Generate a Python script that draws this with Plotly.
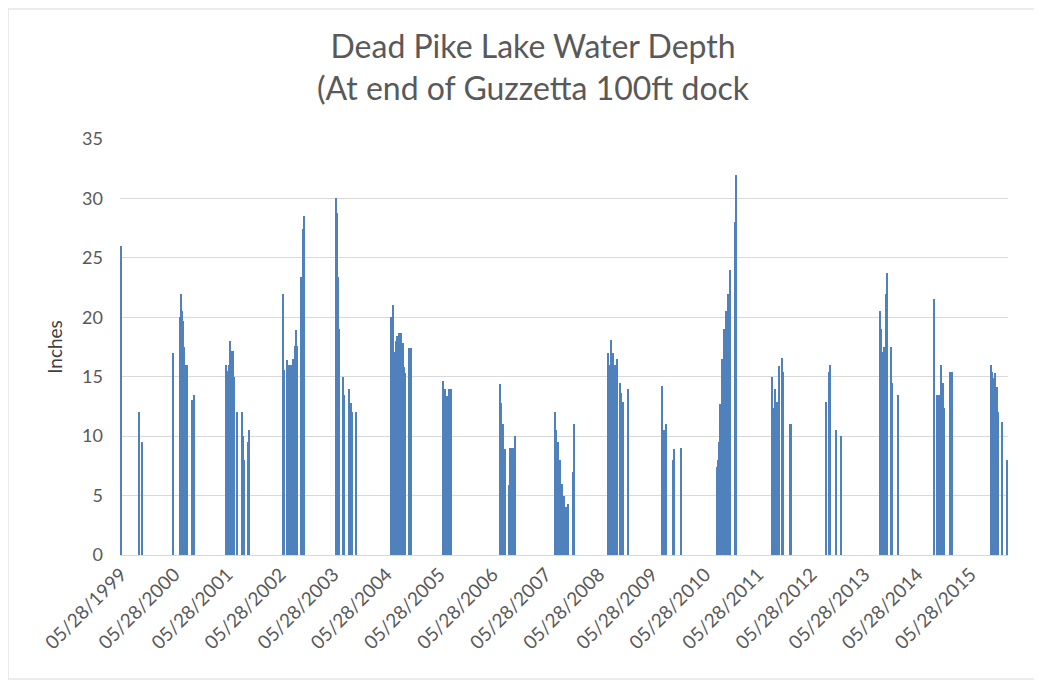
import plotly.graph_objects as go

# Water depth readings (inches), grouped by cluster
dates = [
    # 1999
    "1999-05-28", "1999-10-01", "1999-10-17",
    # 2000
    "2000-05-23", "2000-07-07", "2000-07-17", "2000-07-21", "2000-07-28",
    "2000-08-04", "2000-08-10", "2000-08-19", "2000-08-28", "2000-09-30", "2000-10-10",
    # 2001
    "2001-05-23", "2001-05-29", "2001-06-08", "2001-06-18", "2001-06-28", "2001-07-08",
    "2001-07-15", "2001-08-05", "2001-09-06", "2001-09-13", "2001-09-19", "2001-10-20",
    "2001-10-27",
    # 2002
    "2002-06-18", "2002-06-25", "2002-07-11", "2002-07-20", "2002-08-03", "2002-08-16",
    "2002-08-25", "2002-09-10", "2002-09-17", "2002-09-24", "2002-10-20", "2002-10-29",
    "2002-11-07",
    # 2003
    "2003-06-16", "2003-06-24", "2003-06-29", "2003-07-06", "2003-08-02", "2003-08-11",
    "2003-09-10", "2003-09-25", "2003-10-07", "2003-11-04",
    # 2004
    "2004-06-27", "2004-07-05", "2004-07-14", "2004-07-23", "2004-08-01", "2004-08-10",
    "2004-08-24", "2004-09-07", "2004-09-20", "2004-09-27", "2004-10-06", "2004-10-28",
    "2004-11-11",
    # 2005
    "2005-06-24", "2005-07-07", "2005-07-21", "2005-08-03", "2005-08-12",
    # 2006
    "2006-07-20", "2006-07-27", "2006-08-05", "2006-08-22", "2006-09-17", "2006-09-24",
    "2006-10-07", "2006-10-16", "2006-10-26",
    # 2007
    "2007-07-31", "2007-08-07", "2007-08-22", "2007-09-03", "2007-09-19", "2007-10-02",
    "2007-10-18", "2007-10-29", "2007-11-30", "2007-12-09",
    # 2008
    "2008-07-28", "2008-08-03", "2008-08-21", "2008-09-03", "2008-09-13", "2008-09-22",
    "2008-09-29", "2008-10-24", "2008-10-31", "2008-11-08", "2008-12-12",
    # 2009
    "2009-08-07", "2009-08-18", "2009-08-30", "2009-10-19", "2009-10-25", "2009-12-15",
    # 2010
    "2010-08-18", "2010-08-25", "2010-08-31", "2010-09-09", "2010-09-20", "2010-10-04",
    "2010-10-20", "2010-10-27", "2010-11-05", "2010-11-14", "2010-12-18", "2010-12-26",
    # 2011
    "2011-08-31", "2011-09-07", "2011-09-22", "2011-10-05", "2011-10-18", "2011-11-09",
    "2011-11-16", "2012-01-02", "2012-01-08",
    # 2012
    "2012-09-04", "2012-09-26", "2012-10-03", "2012-11-15", "2012-12-18",
    # 2013
    "2013-09-15", "2013-09-21", "2013-09-28", "2013-10-14", "2013-10-23", "2013-11-01",
    "2013-11-26", "2013-12-03", "2014-01-14",
    # 2014
    "2014-09-19", "2014-10-14", "2014-10-22", "2014-11-05", "2014-11-13", "2014-11-21",
    "2014-12-01", "2015-01-08", "2015-01-19",
    # 2015
    "2015-10-15", "2015-10-22", "2015-10-31", "2015-11-16", "2015-11-24", "2015-12-04",
    "2016-01-01", "2016-02-07",
]

depths = [
    26, 12, 9.5,
    17, 20, 22, 20.5, 19.7, 17.5, 16, 16, 16, 13, 13.5,
    16, 15.5, 16, 18, 17.2, 17.2, 15, 12, 12, 10, 8, 9.5, 10.5,
    22, 15.6, 16.4, 16, 16, 16, 16.5, 17.6, 18.9, 17.6, 23.4, 27.4, 28.5,
    30, 28.8, 23.4, 19, 15, 13.5, 14, 12.8, 12, 12,
    20, 20, 21, 17.1, 18, 18.4, 18.7, 18.7, 17.8, 15.8, 15.3, 17.4, 17.4,
    14.6, 14, 13.4, 14, 14,
    14.4, 12.8, 11, 8.9, 5.9, 9, 9, 9, 10,
    12, 10.5, 9.5, 8, 6, 5, 4, 4.3, 7, 11,
    17, 16, 18.1, 17, 16, 16, 16.5, 14.5, 13.6, 12.9, 14,
    14.2, 10.5, 11, 8, 8.9, 9,
    7.4, 8, 9.5, 12.7, 16.5, 19, 20.5, 20, 22, 24, 28, 32,
    15, 12.4, 14, 12.9, 15.9, 16.6, 15.4, 11, 11,
    12.9, 15.4, 16, 10.5, 10,
    20.5, 19, 17.1, 17.5, 22, 23.7, 17.5, 14.5, 13.5,
    21.5, 13.5, 13.5, 16, 14, 14.5, 12.4, 15.4, 15.4,
    16, 15.4, 14.9, 15.3, 14.1, 12, 11.2, 8,
]

tick_dates = [f"{y}-05-28" for y in range(1999, 2016)]
tick_labels = [f"05/28/{y}" for y in range(1999, 2016)]

title_text = "Dead Pike Lake Water Depth<br>(At end of Guzzetta 100ft dock"

DAY_MS = 86400000
grey_text = "#595959"

fig = go.Figure(
    go.Bar(
        x=dates,
        y=depths,
        width=[9 * DAY_MS] * len(dates),
        marker=dict(color="#4F81BD", line=dict(width=0)),
        showlegend=False,
    )
)

fig.update_layout(
    width=1034,
    height=673,
    paper_bgcolor="white",
    plot_bgcolor="white",
    margin=dict(l=112, r=34, t=131, b=126),
    font=dict(family="Lato, Open Sans, sans-serif", color=grey_text),
    bargap=0,
    annotations=[
        dict(
            text=title_text,
            xref="paper", yref="paper",
            x=(533 - 120) / 888, y=(555 - 66) / 416,
            xanchor="center", yanchor="middle",
            showarrow=False,
            font=dict(size=32, color=grey_text),
        )
    ],
    shapes=[
        dict(
            type="rect", xref="paper", yref="paper",
            x0=-112 / 888, x1=1 + 27 / 888,
            y0=-124 / 416, y1=1 + 130 / 416,
            line=dict(color="#d9d9d9", width=1),
            layer="below",
        )
    ],
)

fig.update_xaxes(
    type="date",
    range=["1999-05-21", "2016-02-10"],
    tickvals=tick_dates,
    ticktext=tick_labels,
    tickangle=-45,
    tickfont=dict(size=19, color=grey_text),
    showgrid=False,
    showline=True,
    linecolor="#d9d9d9",
    linewidth=1,
    ticks="",
    ticklabelstandoff=0,
)

fig.update_yaxes(
    range=[0, 35],
    tick0=0,
    dtick=5,
    showgrid=True,
    gridcolor="#d9d9d9",
    gridwidth=1,
    zeroline=False,
    tickfont=dict(size=18, color=grey_text),
    ticklabelstandoff=16,
    title=dict(text="Inches", font=dict(size=19, color="#404040"), standoff=14),
)

fig.write_html("out.html")
